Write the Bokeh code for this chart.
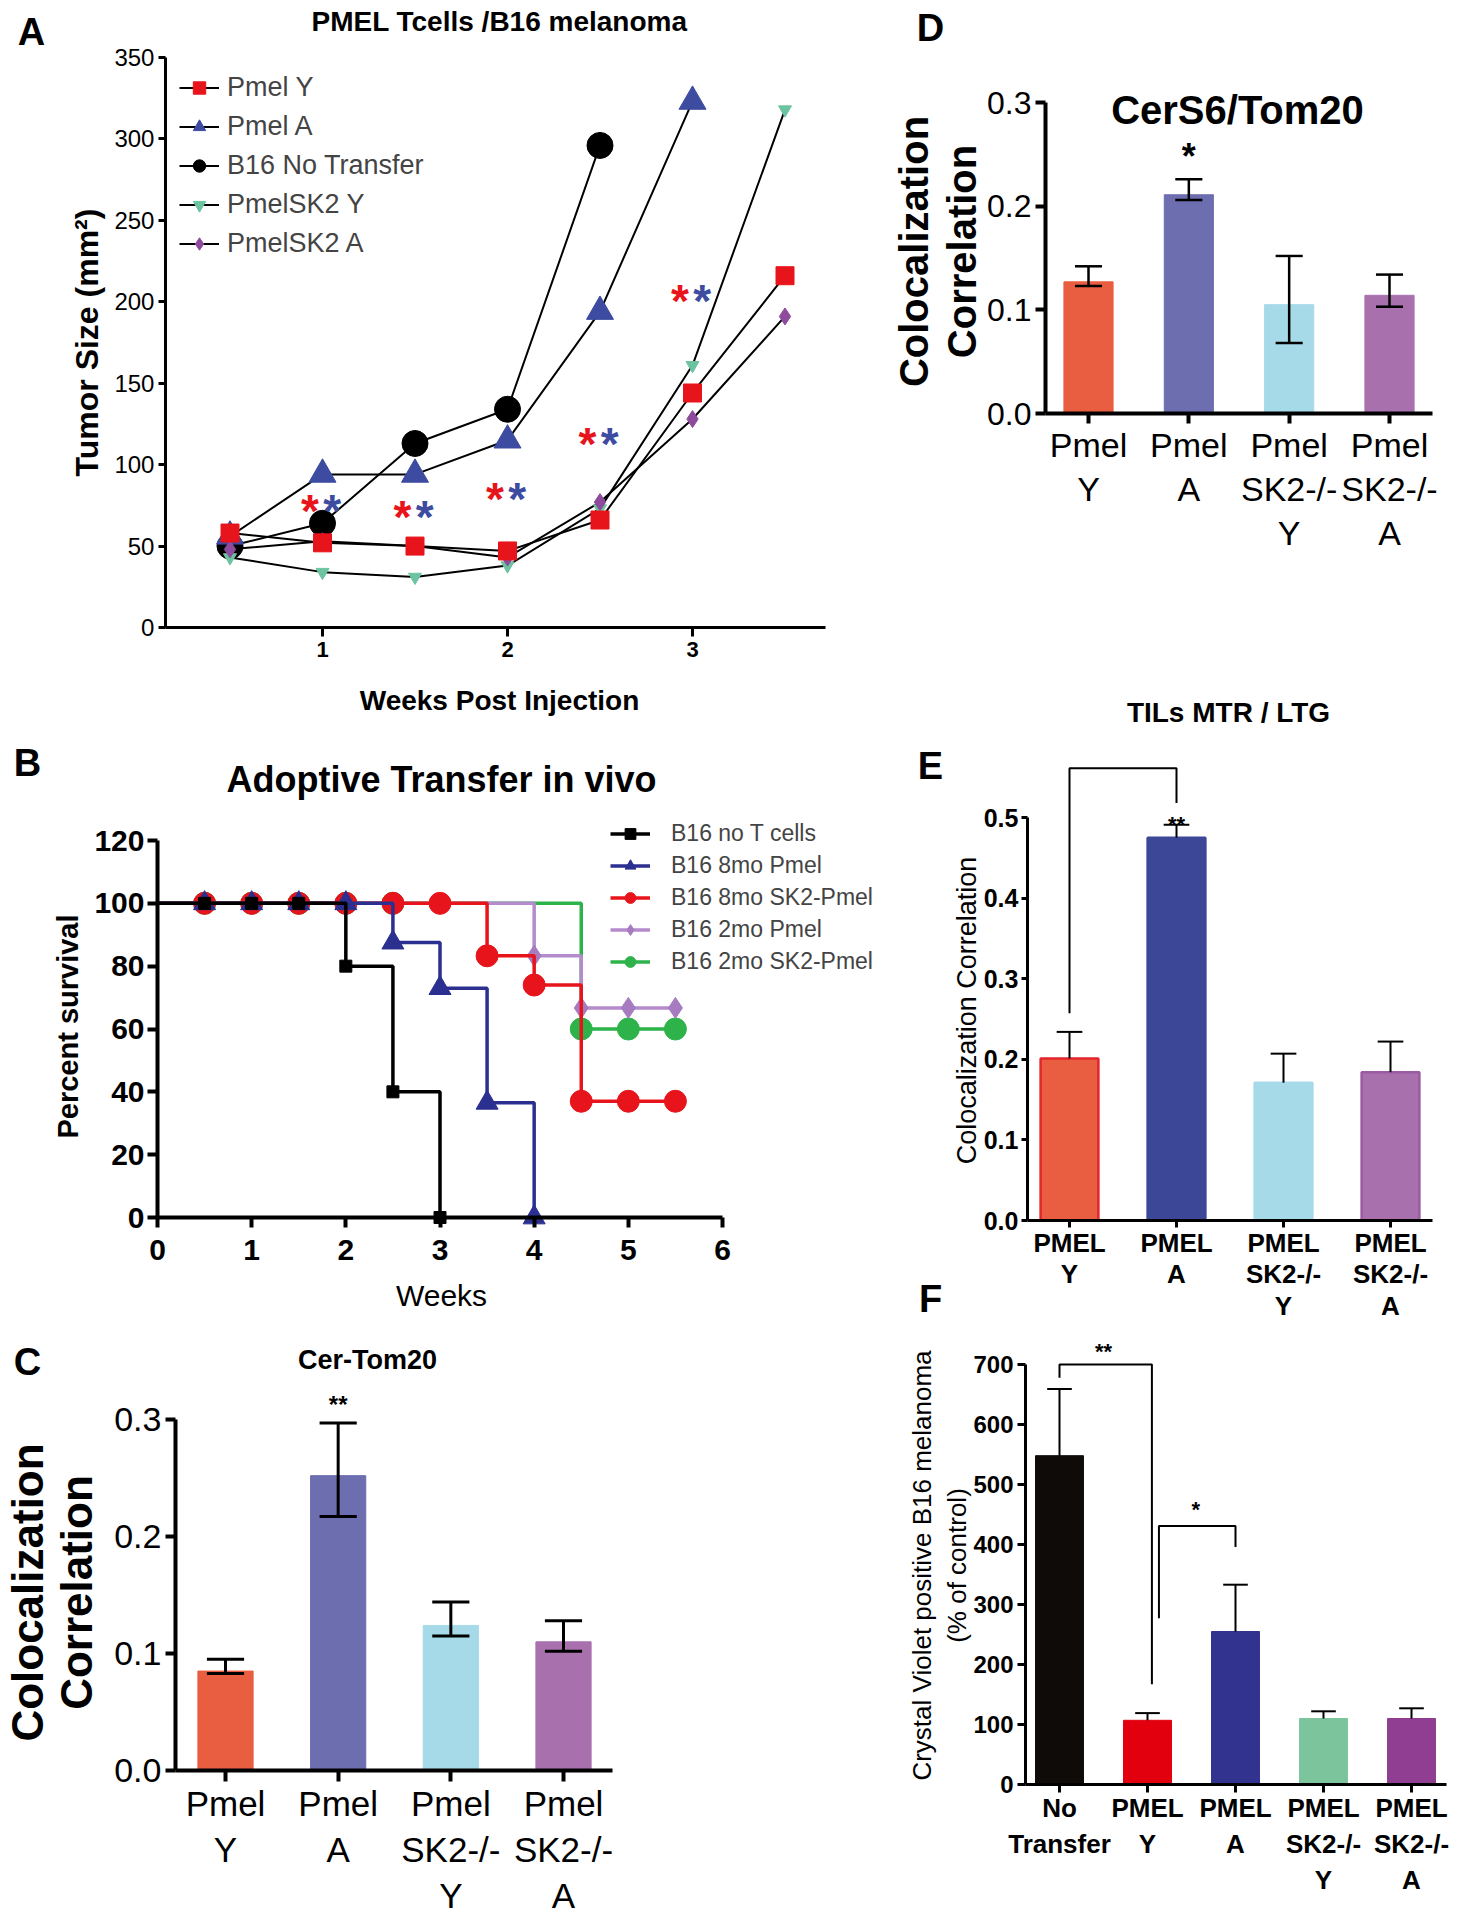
import math
from bokeh.plotting import figure
from bokeh.layouts import row, column
from bokeh.models import Label, Legend, LegendItem, FixedTicker, Range1d, NumeralTickFormatter
from bokeh.embed import file_html
from bokeh.resources import INLINE

FONT = "Liberation Sans"

# ---------------- Panel A data ----------------
a_weeks = [0.5, 1.0, 1.5, 2.0, 2.5, 3.0, 3.5]
a_pmel_y = [58, 52, 50, 47, 66, 144, 216]
a_pmel_a = [56, 94, 94, 115, 194, 323]
a_b16_no_transfer = [50, 64, 113, 134, 296]
a_pmelsk2_y = [43, 34, 31, 38, 73, 161, 318]
a_pmelsk2_a = [48, 53, 50, 43, 77, 128, 191]
a_star_weeks = [1.0, 1.5, 2.0, 2.5, 3.0]
a_star_y = [78, 74, 85, 119, 207]
a_yticks = [0, 50, 100, 150, 200, 250, 300, 350]
a_xticks = [1, 2, 3]

# ---------------- Panel B data ----------------
b_noT_weeks = [0.5, 1.0, 1.5, 2.0, 2.5, 3.0]
b_noT_surv = [100, 100, 100, 80, 40, 0]
b_8mo_weeks = [0.5, 1.0, 1.5, 2.0, 2.5, 3.0, 3.5, 4.0]
b_8mo_surv = [100, 100, 100, 100, 87.5, 73, 36.5, 0]
b_8mo_sk2_weeks = [0.5, 1.0, 1.5, 2.0, 2.5, 3.0, 3.5, 4.0, 4.5, 5.0, 5.5]
b_8mo_sk2_surv = [100, 100, 100, 100, 100, 100, 83.3, 74, 37, 37, 37]
b_2mo_weeks = [4.0, 4.5, 5.0, 5.5]
b_2mo_surv = [83.3, 66.7, 66.7, 66.7]
b_2mo_sk2_weeks = [0.5, 1.0, 1.5, 2.0, 2.5, 4.5, 5.0, 5.5]
b_2mo_sk2_surv = [100, 100, 100, 100, 100, 60, 60, 60]
b_yticks = [0, 20, 40, 60, 80, 100, 120]
b_xticks = [0, 1, 2, 3, 4, 5, 6]

# ---------------- Panel C data ----------------
c_cats = ["Pmel\nY", "Pmel\nA", "Pmel\nSK2-/-\nY", "Pmel\nSK2-/-\nA"]
c_mean = [0.085, 0.252, 0.124, 0.110]
c_low = [0.083, 0.217, 0.115, 0.102]
c_high = [0.095, 0.297, 0.144, 0.128]
c_colors = ["#E95D41", "#6C6EB0", "#A7DAE9", "#A871AE"]
c_yticks = [0.0, 0.1, 0.2, 0.3]

# ---------------- Panel D data ----------------
d_cats = ["Pmel\nY", "Pmel\nA", "Pmel\nSK2-/-\nY", "Pmel\nSK2-/-\nA"]
d_mean = [0.127, 0.211, 0.105, 0.114]
d_low = [0.123, 0.206, 0.068, 0.103]
d_high = [0.142, 0.226, 0.152, 0.134]
d_colors = ["#E95D41", "#6C6EB0", "#A7DAE9", "#A871AE"]
d_yticks = [0.0, 0.1, 0.2, 0.3]

# ---------------- Panel E data ----------------
e_cats = ["PMEL\nY", "PMEL\nA", "PMEL\nSK2-/-\nY", "PMEL\nSK2-/-\nA"]
e_mean = [0.201, 0.475, 0.171, 0.184]
e_high = [0.234, 0.491, 0.207, 0.222]
e_colors = ["#E95D41", "#3C4797", "#A7DAE9", "#A871AE"]
e_edge = ["#E3262C", "#3C4797", "#A7DAE9", "#9A5BA3"]
e_yticks = [0.0, 0.1, 0.2, 0.3, 0.4, 0.5]
e_bracket_x = [1, 1, 2, 2]
e_bracket_y = [0.257, 0.561, 0.561, 0.518]

# ---------------- Panel F data ----------------
f_cats = ["No\nTransfer", "PMEL\nY", "PMEL\nA", "PMEL\nSK2-/-\nY", "PMEL\nSK2-/-\nA"]
f_mean = [548, 107, 255, 110, 110]
f_high = [659, 119, 333, 122, 127]
f_colors = ["#0E0B09", "#E2000F", "#31338E", "#7CC59C", "#8F3E91"]
f_yticks = [0, 100, 200, 300, 400, 500, 600, 700]
f_br1_x = [1, 1, 2.05, 2.05]
f_br1_y = [678, 700, 700, 167]
f_br2_x = [2.13, 2.13, 3, 3]
f_br2_y = [277, 431, 431, 396]


def full_fig(box, xmap, ymap):
    """Figure whose frame fills its whole box; xmap/ymap tie two data values to page pixels."""
    X0, Y0, X1, Y1 = box
    xa, Pa, xb, Pb = xmap
    sx = (Pb - Pa) / (xb - xa)
    ya, Qa, yb, Qb = ymap
    sy = (Qa - Qb) / (yb - ya)
    p = figure(width=X1 - X0, height=Y1 - Y0,
               x_range=Range1d(xa - (Pa - X0) / sx, xa + (X1 - Pa) / sx),
               y_range=Range1d(ya - (Y1 - Qa) / sy, ya + (Qa - Y0) / sy),
               output_backend="svg", toolbar_location=None, title=None, min_border=0)
    p.grid.visible = False
    p.outline_line_color = None
    return p, {"X0": X0, "Y1": Y1, "sy": sy}


def style_axis(ax, lw, tick_out, size, style="normal", standoff=4, line_height=1.2):
    ax.axis_line_width = lw
    ax.axis_line_color = "black"
    ax.major_tick_line_width = lw
    ax.major_tick_line_color = "black"
    ax.major_tick_out = tick_out
    ax.major_tick_in = 0
    ax.minor_tick_line_color = None
    ax.major_label_text_font = FONT
    ax.major_label_text_font_size = f"{size}px"
    ax.major_label_text_font_style = style
    ax.major_label_text_color = "black"
    ax.major_label_standoff = standoff
    ax.major_label_text_line_height = line_height


def put(p, g, X, Y, text, size, style="bold", color="black", angle=0.0):
    p.add_layout(Label(x=X - g["X0"], y=g["Y1"] - Y, x_units="screen", y_units="screen",
                       text=text, text_font=FONT, text_font_size=f"{size}px",
                       text_font_style=style, text_color=color, text_align="center",
                       text_baseline="middle", angle=angle))


def star(p, g, x, y_center, text, size, color="black"):
    p.add_layout(Label(x=x, y=y_center - 0.22 * size / g["sy"], text=text, text_font=FONT,
                       text_font_size=f"{size}px", text_font_style="bold", text_color=color,
                       text_align="center", text_baseline="alphabetic"))


def bar_axes(p, cats):
    xs = list(range(1, len(cats) + 1))
    p.xaxis.ticker = FixedTicker(ticks=xs)
    p.xaxis.major_label_overrides = {x: c for x, c in zip(xs, cats)}
    return xs


UP = math.pi / 2
SPLIT = 888      # border between the left and right columns
BOTTOM = 1918

# =============== Panel A ===============
pA, gA = full_fig((0, 0, SPLIT, 730), (1, 322, 3, 692), (0, 627, 350, 57))
pA.xaxis.fixed_location = 0
pA.yaxis.fixed_location = 0.151
pA.xaxis.bounds = (0.151, 3.72)
pA.yaxis.bounds = (0, 350)
style_axis(pA.yaxis[0], 3, 7, 24, "normal", 4)
style_axis(pA.xaxis[0], 3, 9, 22, "bold", 5)
pA.yaxis.ticker = FixedTicker(ticks=a_yticks)
pA.xaxis.ticker = FixedTicker(ticks=a_xticks)

series_a = [
    ("Pmel Y", a_pmel_y, "square", 18, "#E8141B"),
    ("Pmel A", a_pmel_a, "triangle", 27, "#3D4BA0"),
    ("B16 No Transfer", a_b16_no_transfer, "circle", 26, "#000000"),
    ("PmelSK2 Y", a_pmelsk2_y, "inverted_triangle", 13, "#6CC3A0"),
    ("PmelSK2 A", a_pmelsk2_a, "diamond", 17, "#8E4A9C"),
]
lines_a, scat_a = {}, {}
for name, ys, mk, sz, col in series_a:
    lines_a[name] = pA.line(a_weeks[:len(ys)], ys, line_color="black", line_width=2)
for name in ["B16 No Transfer", "Pmel A", "PmelSK2 Y", "PmelSK2 A", "Pmel Y"]:
    for n2, ys, mk, sz, col in series_a:
        if n2 == name:
            scat_a[name] = pA.scatter(a_weeks[:len(ys)], ys, marker=mk, size=sz,
                                      fill_color=col, line_color=col)
legA = Legend(items=[LegendItem(label=n, renderers=[lines_a[n], scat_a[n]]) for n, *_ in series_a],
              location=(179, 471), label_text_font=FONT, label_text_font_size="27px",
              glyph_width=40, glyph_height=31, label_height=31, spacing=8, padding=0, margin=0,
              border_line_color=None, background_fill_alpha=0, label_standoff=8)
pA.add_layout(legA)
AST = 46
for wk, yv in zip(a_star_weeks, a_star_y):
    star(pA, gA, wk - 0.068, yv, "*", AST, "#E8141B")
    star(pA, gA, wk + 0.053, yv, "*", AST, "#3D4BA0")
put(pA, gA, 499, 21, "PMEL Tcells /B16 melanoma", 28)
put(pA, gA, 31, 31, "A", 38)
put(pA, gA, 86, 342, "Tumor Size (mm²)", 32, angle=UP)
put(pA, gA, 499, 700, "Weeks Post Injection", 28)

# =============== Panel B ===============
pB, gB = full_fig((0, 730, SPLIT, 1320), (0, 157, 6, 722), (0, 1217, 120, 840))
pB.xaxis.fixed_location = 0
pB.yaxis.fixed_location = 0
pB.xaxis.bounds = (0, 6)
pB.yaxis.bounds = (0, 120)
style_axis(pB.yaxis[0], 4, 10, 30, "bold", 3)
style_axis(pB.xaxis[0], 4, 10, 30, "bold", 12)
pB.yaxis.ticker = FixedTicker(ticks=b_yticks)
pB.xaxis.ticker = FixedTicker(ticks=b_xticks)

series_b = [
    ("B16 2mo SK2-Pmel", b_2mo_sk2_weeks, b_2mo_sk2_surv, "circle", 22, "#2DB34A", "#2DB34A"),
    ("B16 2mo Pmel", b_2mo_weeks, b_2mo_surv, "diamond", 21, "#B48BCB", "#A77BC0"),
    ("B16 8mo SK2-Pmel", b_8mo_sk2_weeks, b_8mo_sk2_surv, "circle", 22, "#E8141B", "#E8141B"),
    ("B16 8mo Pmel", b_8mo_weeks, b_8mo_surv, "triangle", 22, "#2B2F8F", "#2B2F8F"),
    ("B16 no T cells", b_noT_weeks, b_noT_surv, "square", 12, "#000000", "#000000"),
]
rend_b = {}
for name, wk, sv, mk, sz, lc, mc in series_b:
    st = pB.step([0] + wk, [100] + sv, mode="after", line_color=lc, line_width=3.5)
    sc = pB.scatter(wk, sv, marker=mk, size=sz, fill_color=mc, line_color=mc)
    rend_b[name] = [st, sc]
legB = Legend(items=[LegendItem(label=n, renderers=rend_b[n]) for n in
                     ["B16 no T cells", "B16 8mo Pmel", "B16 8mo SK2-Pmel", "B16 2mo Pmel", "B16 2mo SK2-Pmel"]],
              location=(610, 345), label_text_font=FONT, label_text_font_size="23px",
              glyph_width=40, glyph_height=27, label_height=27, spacing=5, padding=0, margin=0,
              border_line_color=None, background_fill_alpha=0, label_standoff=21)
pB.add_layout(legB)
put(pB, gB, 441, 779, "Adoptive Transfer in vivo", 36)
put(pB, gB, 27, 762, "B", 38)
put(pB, gB, 67, 1026, "Percent survival", 29, angle=UP)
put(pB, gB, 441, 1295, "Weeks", 30, style="normal")

# =============== Panel C ===============
pC, gC = full_fig((0, 1320, SPLIT, BOTTOM), (1, 225, 4, 563), (0, 1770, 0.3, 1419))
xs = bar_axes(pC, c_cats)
pC.xaxis.fixed_location = 0
pC.yaxis.fixed_location = 0.556
pC.xaxis.bounds = (0.556, 4.435)
pC.yaxis.bounds = (0, 0.3)
pC.vbar(x=xs, top=c_mean, width=0.49, fill_color=c_colors, line_color=c_colors)
pC.segment(xs, c_low, xs, c_high, line_color="black", line_width=3)
pC.segment([x - 0.165 for x in xs], c_high, [x + 0.165 for x in xs], c_high, line_color="black", line_width=3)
pC.segment([x - 0.165 for x in xs], c_low, [x + 0.165 for x in xs], c_low, line_color="black", line_width=3)
pC.yaxis.ticker = FixedTicker(ticks=c_yticks)
pC.yaxis.formatter = NumeralTickFormatter(format="0.0")
style_axis(pC.yaxis[0], 4, 10, 34, "normal", 4)
style_axis(pC.xaxis[0], 4, 11, 35, "normal", 2, 1.18)
star(pC, gC, 2, 0.317, "**", 24)
put(pC, gC, 367, 1359, "Cer-Tom20", 27)
put(pC, gC, 27, 1361, "C", 38)
put(pC, gC, 27, 1592, "Colocalization", 44, angle=UP)
put(pC, gC, 76, 1592, "Correlation", 44, angle=UP)

# =============== Panel D ===============
pD, gD = full_fig((SPLIT, 0, 1455, 560), (1, 1088, 4, 1389), (0, 413, 0.3, 102))
xs = bar_axes(pD, d_cats)
pD.xaxis.fixed_location = 0
pD.yaxis.fixed_location = 0.571
pD.xaxis.bounds = (0.571, 4.429)
pD.yaxis.bounds = (0, 0.3)
pD.vbar(x=xs, top=d_mean, width=0.49, fill_color=d_colors, line_color=d_colors)
pD.segment(xs, d_low, xs, d_high, line_color="black", line_width=2.5)
pD.segment([x - 0.135 for x in xs], d_high, [x + 0.135 for x in xs], d_high, line_color="black", line_width=2.5)
pD.segment([x - 0.135 for x in xs], d_low, [x + 0.135 for x in xs], d_low, line_color="black", line_width=2.5)
pD.yaxis.ticker = FixedTicker(ticks=d_yticks)
pD.yaxis.formatter = NumeralTickFormatter(format="0.0")
style_axis(pD.yaxis[0], 4, 10, 32, "normal", 4)
style_axis(pD.xaxis[0], 4, 10, 34, "normal", 2, 1.17)
star(pD, gD, 2, 0.2556, "*", 36)
put(pD, gD, 1237, 109, "CerS6/Tom20", 40)
put(pD, gD, 930, 27, "D", 38)
put(pD, gD, 913, 251, "Colocalization", 40, angle=UP)
put(pD, gD, 961, 251, "Correlation", 40, angle=UP)

# =============== Panel E ===============
pE, gE = full_fig((SPLIT, 560, 1455, 1320), (1, 1069, 4, 1390), (0, 1220, 0.5, 817))
xs = bar_axes(pE, e_cats)
pE.xaxis.fixed_location = 0
pE.yaxis.fixed_location = 0.607
pE.xaxis.bounds = (0.607, 4.393)
pE.yaxis.bounds = (0, 0.5)
pE.vbar(x=xs, top=e_mean, width=0.54, fill_color=e_colors, line_color=e_edge, line_width=2.5)
pE.segment(xs, e_mean, xs, e_high, line_color="black", line_width=2)
pE.segment([x - 0.12 for x in xs], e_high, [x + 0.12 for x in xs], e_high, line_color="black", line_width=2)
pE.line(e_bracket_x, e_bracket_y, line_color="black", line_width=2)
pE.yaxis.ticker = FixedTicker(ticks=e_yticks)
pE.yaxis.formatter = NumeralTickFormatter(format="0.0")
style_axis(pE.yaxis[0], 3, 6, 25, "bold", 3)
style_axis(pE.xaxis[0], 3, 7, 26, "bold", 0, 1.06)
star(pE, gE, 2, 0.4975, "**", 22)
put(pE, gE, 1228, 712, "TILs MTR / LTG", 28)
put(pE, gE, 930, 765, "E", 38)
put(pE, gE, 930, 1298, "F", 38)
put(pE, gE, 966, 1010, "Colocalization Correlation", 27, style="normal", angle=UP)

# =============== Panel F ===============
pF, gF = full_fig((SPLIT, 1320, 1455, BOTTOM), (1, 1059, 5, 1411), (0, 1784, 700, 1364))
xs = bar_axes(pF, f_cats)
pF.xaxis.fixed_location = 0
pF.yaxis.fixed_location = 0.614
pF.xaxis.bounds = (0.614, 5.398)
pF.yaxis.bounds = (0, 700)
pF.vbar(x=xs, top=f_mean, width=0.545, fill_color=f_colors, line_color=f_colors)
pF.segment(xs, f_mean, xs, f_high, line_color="black", line_width=2)
pF.segment([x - 0.14 for x in xs], f_high, [x + 0.14 for x in xs], f_high, line_color="black", line_width=2)
pF.line(f_br1_x, f_br1_y, line_color="black", line_width=2)
pF.line(f_br2_x, f_br2_y, line_color="black", line_width=2)
pF.yaxis.ticker = FixedTicker(ticks=f_yticks)
style_axis(pF.yaxis[0], 3, 8, 24, "bold", 4)
style_axis(pF.xaxis[0], 3, 8, 26, "bold", 0, 1.2)
star(pF, gF, 1.5, 730, "**", 22)
star(pF, gF, 2.55, 467, "*", 22)
put(pF, gF, 921, 1565, "Crystal Violet positive B16 melanoma", 26, style="normal", angle=UP)
put(pF, gF, 956, 1565, "(% of control)", 26, style="normal", angle=UP)

layout = row(column(pA, pB, pC), column(pD, pE, pF))
open("out.html", "w").write(file_html(layout, INLINE))
